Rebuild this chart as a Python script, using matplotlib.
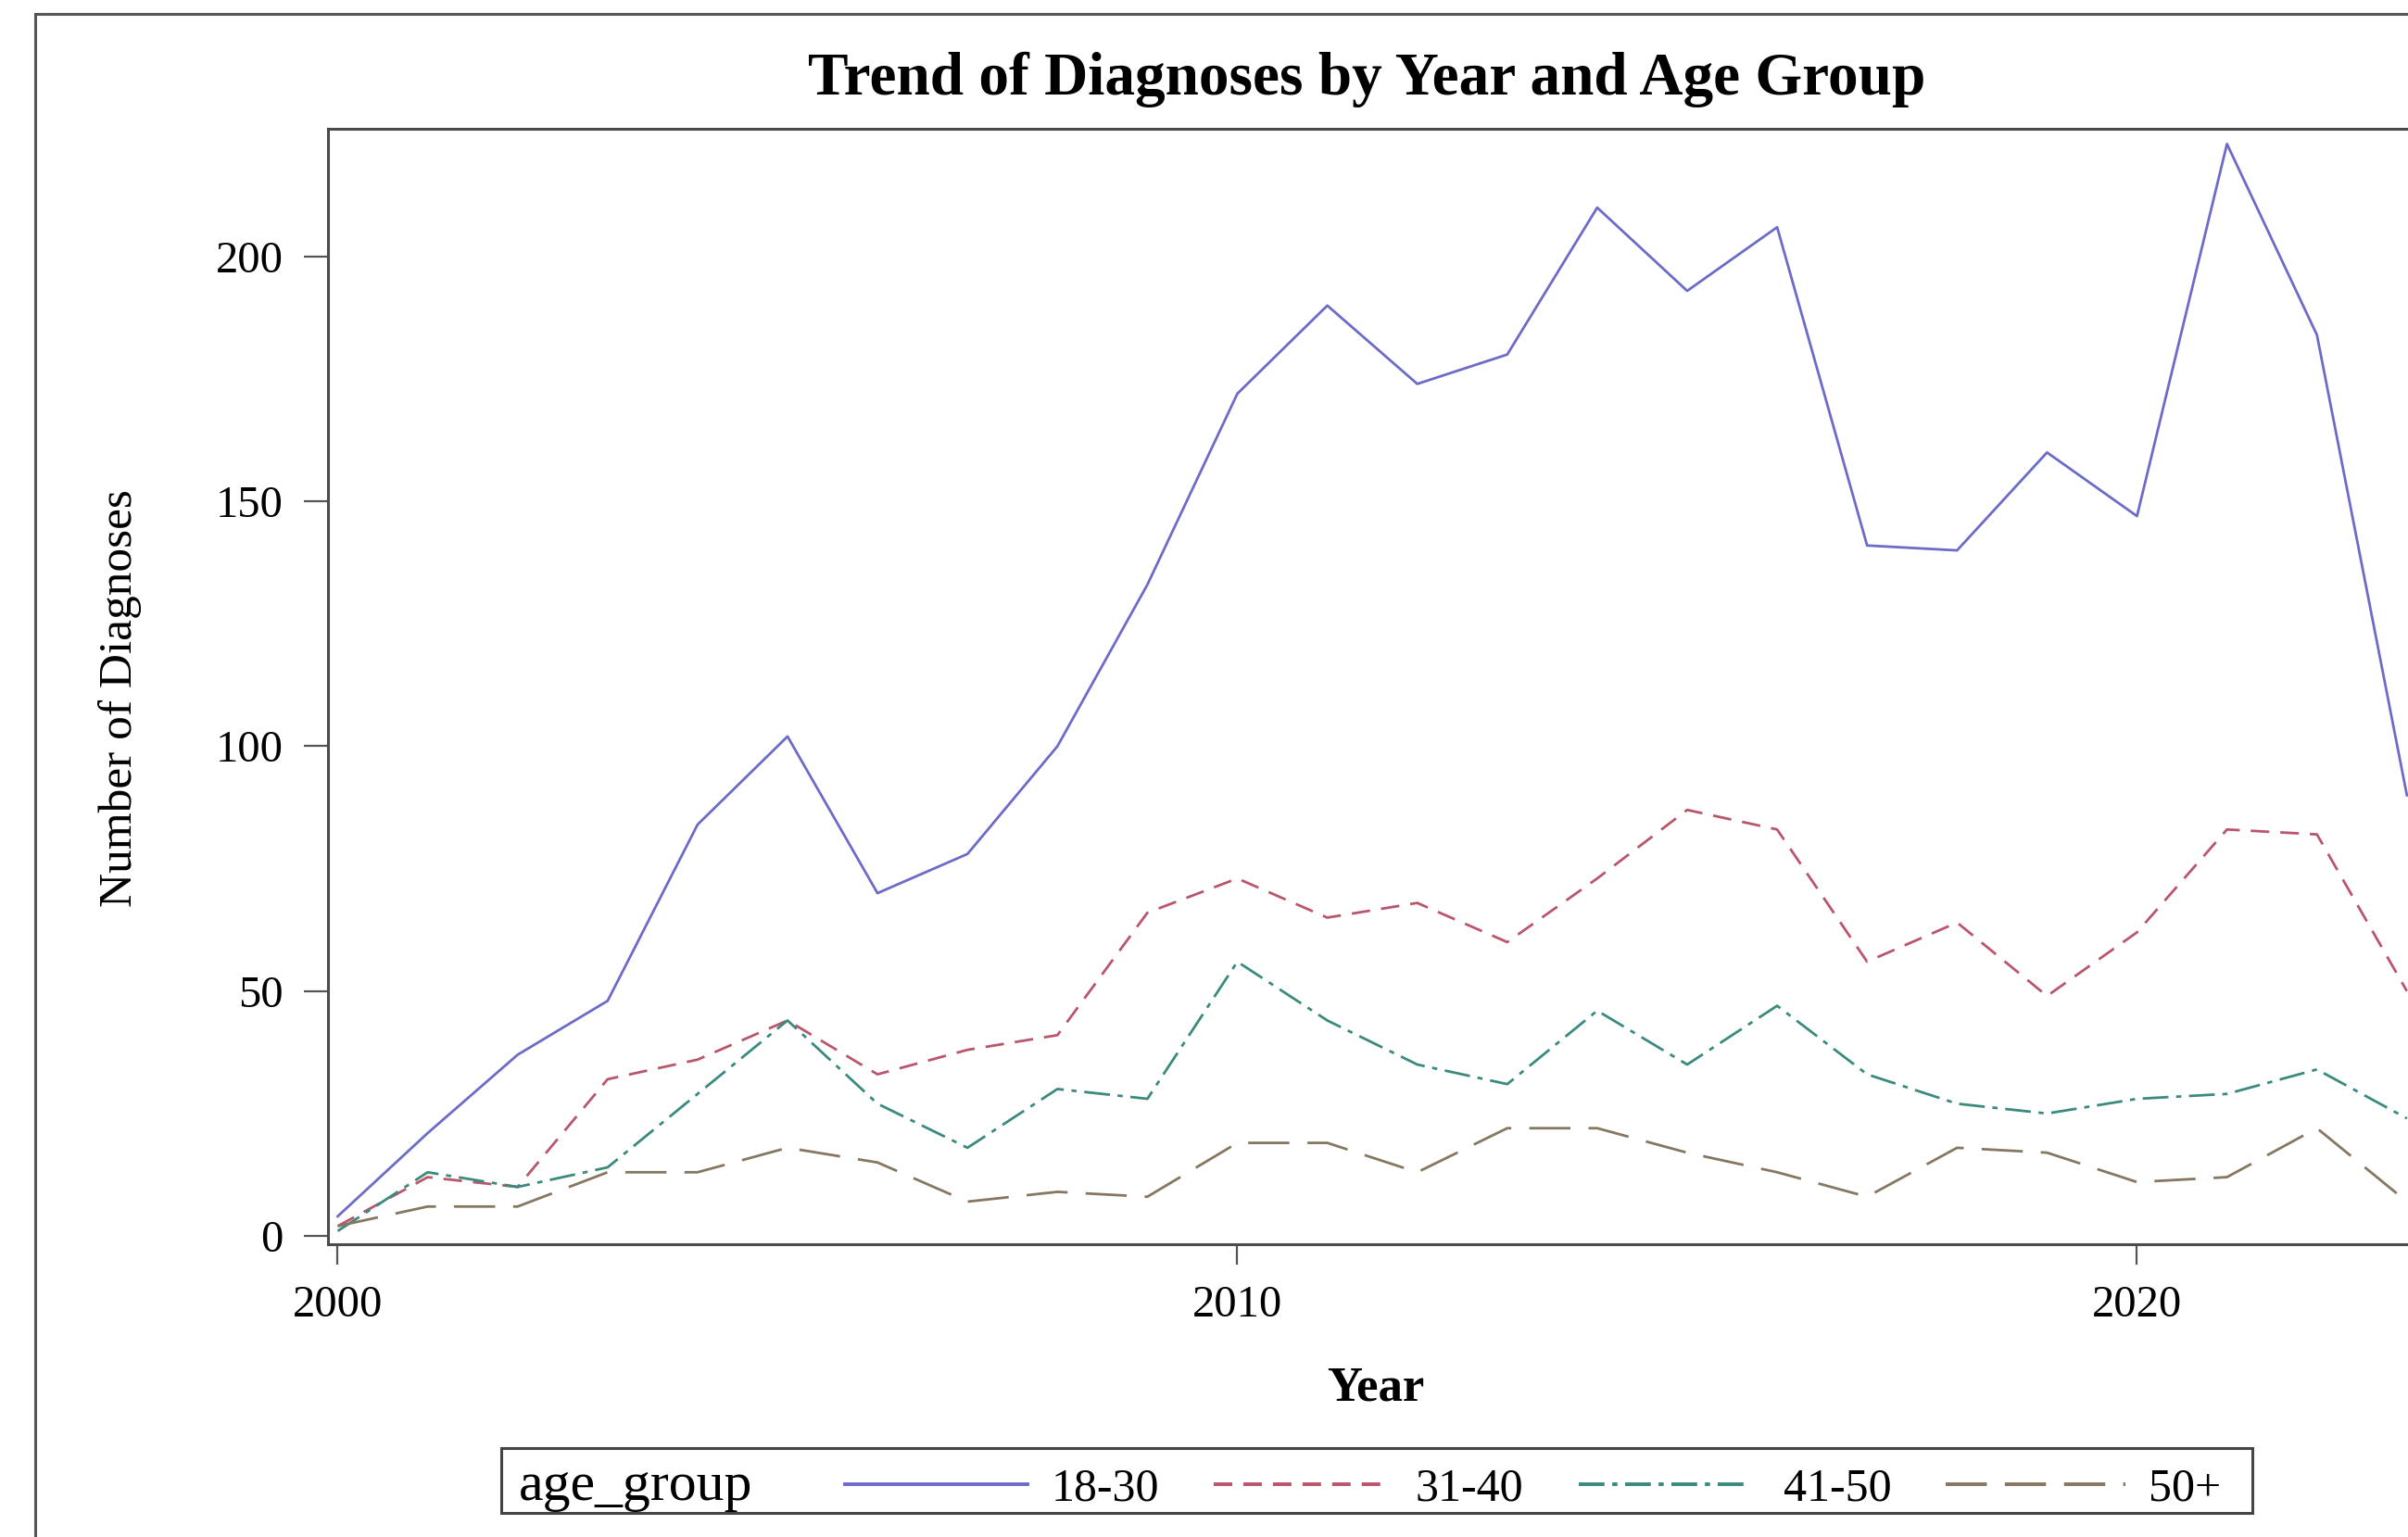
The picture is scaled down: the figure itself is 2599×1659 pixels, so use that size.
import matplotlib
matplotlib.use("Agg")
import matplotlib.pyplot as plt
from matplotlib.lines import Line2D
from matplotlib.patches import Rectangle

# ── data ────────────────────────────────────────────────────────
years = list(range(2000, 2024))
age_groups = ["18-30", "31-40", "41-50", "50+"]

n_18_30 = [4, 21, 37, 48, 84, 102, 70, 78, 100, 133, 172, 190,
           174, 180, 210, 193, 206, 141, 140, 160, 147, 223, 184, 90]
n_31_40 = [2, 12, 10, 32, 36, 44, 33, 38, 41, 66, 73, 65,
           68, 60, 73, 87, 83, 56, 64, 49, 62, 83, 82, 50]
n_41_50 = [1, 13, 10, 14, 29, 44, 27, 18, 30, 28, 56, 44,
           35, 31, 46, 35, 47, 33, 27, 25, 28, 29, 34, 24]
n_50_up = [2, 6, 6, 13, 13, 18, 15, 7, 9, 8, 19, 19,
           13, 22, 22, 17, 13, 8, 18, 17, 11, 12, 22, 7]

series = [n_18_30, n_31_40, n_41_50, n_50_up]
colors = ["#6C6CC8", "#B9566C", "#3A8A7E", "#857760"]
dashes = [None, (7.2, 4.3), (10, 3, 2, 3), (16, 7)]

W, H = 2599, 1659
DPI = 200
plt.rcParams["font.family"] = ["Liberation Serif", "DejaVu Serif"]

fig = plt.figure(figsize=(W / DPI, H / DPI), dpi=DPI)
fig.patch.set_facecolor("white")

def fx(px):
    return px / W

def fy(py):
    return 1 - py / H

def style(d, lw):
    # keep the dash length in pixels the same whatever the width
    if d is None:
        return "-"
    return (0, tuple(v / lw for v in d))

# outer frame (runs off the right and bottom edges)
fig.patches.append(Rectangle((fx(38), fy(1700)), 1.2, fy(15) - fy(1700),
                             transform=fig.transFigure, fill=False,
                             edgecolor="#555555", linewidth=1.1))

# axes: left 354px, top 139px, bottom 1343px, right beyond the image edge
ax_l, ax_r, ax_t, ax_b = 354, 2680, 139, 1343
ax = fig.add_axes([fx(ax_l), fy(ax_b), fx(ax_r - ax_l), (ax_b - ax_t) / H])

for vals, c, d in zip(series, colors, dashes):
    ax.plot(years, vals, color=c, linestyle=style(d, 1.0), linewidth=1.0)

ax.set_xticks([2000, 2010, 2020])
ax.set_yticks([0, 50, 100, 150, 200])

px_per_year = 97.1
x_2000 = 364.5
x0 = 2000 - (x_2000 - ax_l) / px_per_year
x1 = 2000 + (ax_r - x_2000) / px_per_year
ax.set_xlim(x0, x1)
ax.set_ylim(-1.7, 226.1)

ax.tick_params(axis="y", length=9.5, width=0.8, color="#555555",
               labelsize=17.5, pad=8)
ax.tick_params(axis="x", length=8, width=0.8, color="#555555",
               labelsize=17.5, pad=8)
for sp in ax.spines.values():
    sp.set_color("#4a4a4a")
    sp.set_linewidth(1.1)

# titles
fig.text(fx(1475), fy(102), "Trend of Diagnoses by Year and Age Group",
         ha="center", va="baseline", fontsize=23.5, fontweight="bold")
fig.text(fx(1485), fy(1512), "Year", ha="center", va="baseline",
         fontsize=19, fontweight="bold")
fig.text(fx(130), fy(754), "Number of Diagnoses", ha="center", va="center",
         rotation=90, fontsize=18.5)

# legend box
fig.patches.append(Rectangle((fx(541), fy(1633)), fx(2431 - 541), (1633 - 1563) / H,
                             transform=fig.transFigure, fill=False,
                             edgecolor="#444444", linewidth=1.1))
base = fy(1619)
line_y = fy(1602)
fig.text(fx(560), base, "age_group", ha="left", va="baseline", fontsize=21.5)
leg_lines = [(912, 1109, 1135), (1310, 1500, 1527), (1704, 1887, 1925), (2100, 2294, 2319)]
for (l0, l1, tx), lab, c, d in zip(leg_lines, age_groups, colors, dashes):
    fig.lines.append(Line2D([fx(l0), fx(l1)], [line_y, line_y],
                            transform=fig.transFigure, color=c,
                            linestyle=style(d, 1.4), linewidth=1.4))
    fig.text(fx(tx), base, lab, ha="left", va="baseline", fontsize=18)

fig.savefig("out.png", dpi=DPI, facecolor="white")
